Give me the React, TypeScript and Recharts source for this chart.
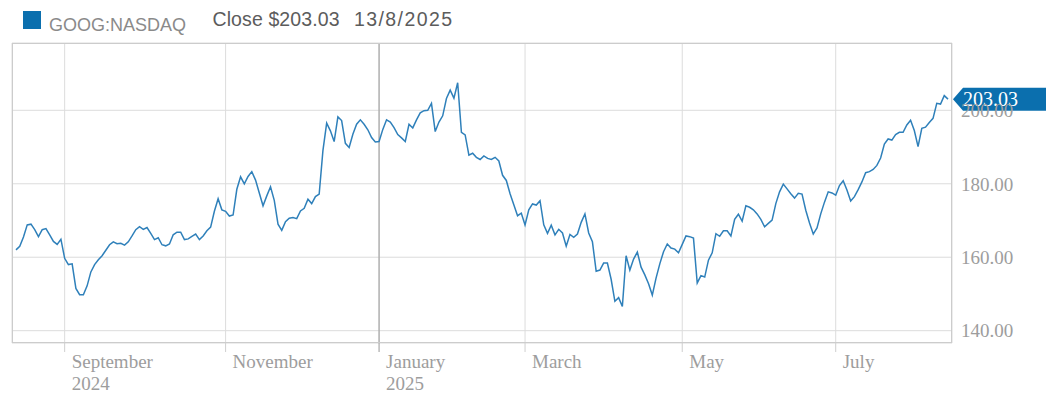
import React from 'react';
import { LineChart, Line, XAxis, YAxis, CartesianGrid, ReferenceLine } from 'recharts';

// GOOG daily closes, one array per month (trading days only)
const aug2024 = [162.0, 163.0, 165.5, 168.8, 169.0, 167.5, 165.6, 167.5, 167.8, 166.1, 164.3, 163.5, 164.9];
const sep2024 = [159.7, 158.0, 158.2, 151.5, 149.8, 149.8, 152.2, 156.0, 158.0, 159.3, 160.4, 161.9, 163.4, 164.2, 163.7, 163.8, 163.3, 164.2, 165.8, 167.5];
const oct2024 = [168.3, 167.6, 168.1, 166.5, 164.8, 165.3, 163.4, 163.1, 163.6, 166.1, 166.8, 166.8, 164.8, 165.0, 165.7, 166.3, 164.8, 165.8, 167.2, 168.2, 172.5, 175.9, 172.9];
const nov2024 = [172.5, 171.2, 171.5, 178.5, 181.9, 180.0, 182.0, 183.3, 181.0, 177.5, 174.0, 176.7, 179.2, 175.5, 169.0, 167.3, 169.7, 170.6, 170.8, 170.5];
const dec2024 = [172.6, 173.3, 175.8, 174.6, 176.5, 177.2, 189.0, 196.5, 194.4, 191.5, 198.2, 197.2, 191.0, 189.9, 193.5, 196.2, 197.4, 196.2, 194.7, 192.6, 191.4];
const jan2025 = [191.5, 194.8, 197.4, 196.8, 195.3, 193.4, 192.5, 191.5, 196.2, 195.2, 197.4, 199.3, 199.9, 200.0, 201.9, 194.2, 196.8, 198.5, 203.2, 205.5];
const feb2025 = [203.3, 207.5, 194.0, 193.3, 187.8, 188.3, 187.2, 186.6, 187.6, 186.9, 186.6, 187.2, 186.2, 182.3, 180.9, 177.3, 174.3, 171.3, 172.0];
const mar2025 = [168.8, 172.9, 174.5, 174.2, 175.4, 168.8, 166.5, 168.7, 166.1, 167.6, 166.6, 163.0, 166.2, 165.4, 166.3, 169.5, 171.8, 166.6, 164.2, 156.2, 156.5];
const apr2025 = [158.4, 158.4, 154.0, 148.0, 149.0, 146.6, 160.4, 156.5, 159.5, 161.4, 157.3, 155.2, 152.8, 149.7, 154.3, 158.2, 161.5, 163.6, 162.5, 162.2, 161.2];
const may2025 = [163.5, 165.8, 165.6, 165.2, 153.0, 155.0, 154.6, 159.2, 161.2, 166.4, 165.7, 167.2, 167.2, 165.8, 170.3, 171.7, 169.8, 174.0, 173.6, 172.9, 171.8];
const jun2025 = [170.3, 168.3, 169.2, 170.1, 174.6, 177.8, 179.9, 178.6, 177.3, 176.1, 177.4, 177.2, 172.8, 169.3, 166.3, 168.0, 171.8, 175.0, 177.8, 177.5];
const jul2025 = [176.9, 179.5, 180.8, 178.3, 175.3, 176.5, 178.4, 180.5, 183.0, 183.3, 183.9, 185.0, 187.0, 190.8, 192.2, 191.9, 193.4, 194.0, 194.0, 196.0, 197.3, 194.5];
const aug2025 = [190.1, 195.1, 195.4, 196.7, 197.8, 201.9, 201.7, 204.0, 203.03];

const months = [aug2024, sep2024, oct2024, nov2024, dec2024, jan2025, feb2025, mar2025, apr2025, may2025, jun2025, jul2025, aug2025];

// labelled months: position in `months`, name, year line
const tickMonthPos = [1, 3, 5, 7, 9, 11];
const tickMonths = ['September', 'November', 'January', 'March', 'May', 'July'];
const tickYears = ['2024', '', '2025', '', '', ''];
const yTicks = [140, 160, 180, 200];

const closes = months.flat();
const data = closes.map((close, i) => ({ i, close }));
const monthStarts = months.map((_, k) => months.slice(0, k).reduce((s, m) => s + m.length, 0));
const tickIdx = tickMonthPos.map((k) => monthStarts[k]);
const janIdx = monthStarts[5];
const last = closes[closes.length - 1];

const serif = "'Liberation Serif', 'Times New Roman', serif";
const sans = "'Liberation Sans', Arial, sans-serif";
const axisGrey = '#9d9d9d';

function MonthTick(props: any) {
  const { x, y, payload } = props;
  const k = tickIdx.indexOf(payload.value);
  const dark = payload.value === janIdx;
  return (
    <g>
      <line x1={x} y1={y} x2={x} y2={y + 9} stroke={dark ? '#999' : '#cfcfcf'} />
      <text x={x + 7} y={y + 25} fill={axisGrey} fontSize={19} fontFamily={serif}>{tickMonths[k]}</text>
      {tickYears[k] ? (
        <text x={x + 7} y={y + 47} fill={axisGrey} fontSize={19} fontFamily={serif}>{tickYears[k]}</text>
      ) : null}
    </g>
  );
}

function PriceTag(props: any) {
  const vb = props.viewBox || { x: 4, y: 91, width: 940 };
  const x0 = vb.x + vb.width + 1;
  const cy = vb.y;
  const d = `M${x0},${cy} L${x0 + 10},${cy - 11.5} L${x0 + 93},${cy - 11.5} L${x0 + 93},${cy + 11.5} L${x0 + 10},${cy + 11.5} Z`;
  return (
    <g>
      <path d={d} fill="#0b6fae" />
      <text x={x0 + 10} y={cy + 7} fill="#fff" fontSize={20} fontFamily={serif}>{last.toFixed(2)}</text>
    </g>
  );
}

export default function App() {
  const W = 1040;
  const H = 395;
  return (
    <div style={{ position: 'relative', width: W, height: H }}>
      <LineChart width={W} height={H} data={data} margin={{ top: 35, right: 0, bottom: 0, left: 4 }}>
        <CartesianGrid stroke="#dcdcdc" />
        <XAxis
          type="number"
          dataKey="i"
          domain={[0, data.length - 1]}
          ticks={tickIdx}
          interval={0}
          padding={{ left: 4, right: 4 }}
          height={60}
          axisLine={false}
          tickLine={false}
          tickSize={0}
          tickMargin={0}
          tick={<MonthTick />}
        />
        <YAxis
          orientation="right"
          width={96}
          domain={[136.65, 218.32]}
          ticks={yTicks}
          axisLine={false}
          tickLine={false}
          tickMargin={3}
          tickFormatter={(v: number) => v.toFixed(2)}
          tick={{ fill: axisGrey, fontSize: 19, fontFamily: serif }}
        />
        <ReferenceLine x={janIdx} stroke="#999" />
        <Line type="linear" dataKey="close" stroke="#2f80ba" strokeWidth={1.5} dot={false} isAnimationActive={false} />
        <ReferenceLine y={last} stroke="none" label={PriceTag} />
      </LineChart>
      <div
        style={{
          position: 'absolute', left: 4, top: 35, width: 940, height: 300,
          border: '1px solid #cccccc', boxSizing: 'border-box', pointerEvents: 'none',
        }}
      />
      <svg width={600} height={34} style={{ position: 'absolute', left: 0, top: 0, pointerEvents: 'none' }}>
        <rect x={15} y={3} width={18} height={18} fill="#0b6fae" />
        <text x={41} y={23} fill="#8a8a8a" fontSize={18} fontFamily={sans}>GOOG:NASDAQ</text>
        <text x={204.5} y={18} fill="#5c5c5c" fontSize={19.5} fontFamily={sans} textLength={127} lengthAdjust="spacing">Close $203.03</text>
        <text x={346} y={18} fill="#5c5c5c" fontSize={19.5} fontFamily={sans} textLength={98} lengthAdjust="spacing">13/8/2025</text>
      </svg>
    </div>
  );
}
